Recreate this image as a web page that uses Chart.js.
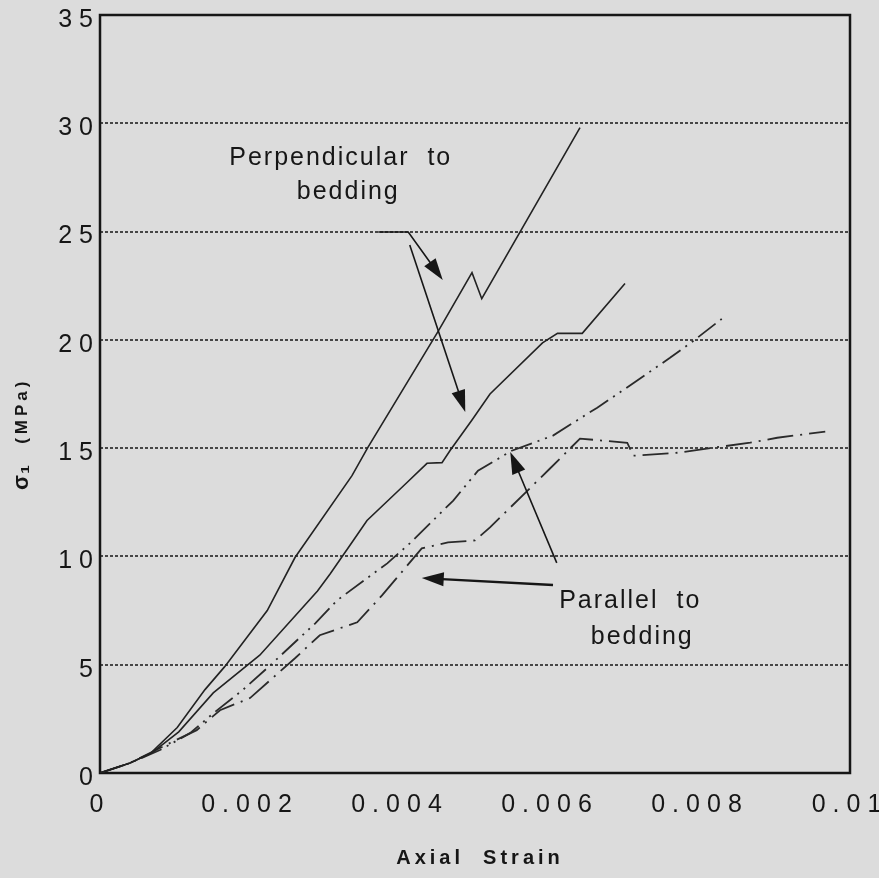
<!DOCTYPE html>
<html lang="en">
<head>
<meta charset="utf-8">
<title>Axial stress vs axial strain</title>
<script src="https://cdn.jsdelivr.net/npm/chart.js@4.4.1/dist/chart.umd.min.js"></script>
<style>
    html, body { margin: 0; padding: 0; background: #dcdcdc; }
    canvas { display: block; }
</style>
</head>
<body>
<canvas id="strainChart" width="879" height="878"></canvas>
<script>
// Readings along each curve: axial strain and axial stress (MPa)
const perpAStrain = [0, 0.0004, 0.00067, 0.00103, 0.0014, 0.00166, 0.00223, 0.0026, 0.00336, 0.00357, 0.00451, 0.00496, 0.00509, 0.0064];
const perpAStress = [0, 0.46, 0.9, 2.1, 3.85, 4.9, 7.5, 9.95, 13.73, 15.02, 20.4, 23.1, 21.9, 29.8];

const perpBStrain = [0, 0.0004, 0.0007, 0.00105, 0.00151, 0.00213, 0.0029, 0.00307, 0.00337, 0.00356, 0.00409, 0.00436, 0.00456, 0.00467, 0.00496, 0.0052, 0.0059, 0.0061, 0.00643, 0.007];
const perpBStress = [0, 0.46, 0.95, 1.9, 3.7, 5.44, 8.4, 9.2, 10.7, 11.66, 13.4, 14.3, 14.33, 14.9, 16.3, 17.5, 19.86, 20.3, 20.3, 22.6];

const paraAStrain = [0, 0.0004, 0.0008, 0.0012, 0.00153, 0.0019, 0.00224, 0.00287, 0.00316, 0.00383, 0.00413, 0.00471, 0.00504, 0.00549, 0.00604, 0.00663, 0.007, 0.0076, 0.00791, 0.00829];
const paraAStress = [0, 0.46, 1.06, 1.84, 2.81, 3.82, 4.88, 6.91, 7.97, 9.68, 10.6, 12.58, 13.96, 14.88, 15.58, 16.87, 17.74, 19.17, 19.95, 20.97];

const paraBStrain = [0, 0.0004, 0.00093, 0.00129, 0.0016, 0.002, 0.0026, 0.00293, 0.00343, 0.00376, 0.00429, 0.00464, 0.005, 0.0052, 0.006, 0.0064, 0.00703, 0.00711, 0.00771, 0.00809, 0.00867, 0.00903, 0.00967];
const paraBStress = [0, 0.46, 1.38, 1.98, 2.9, 3.46, 5.3, 6.36, 6.96, 8.2, 10.37, 10.65, 10.74, 11.34, 14.06, 15.44, 15.25, 14.65, 14.79, 14.98, 15.25, 15.48, 15.76];

const xTickLabels = ['0', '0.002', '0.004', '0.006', '0.008', '0.01'];
const yTickLabels = ['0', '5', '10', '15', '20', '25', '30', '35'];

const FONT = "'Liberation Sans', Arial, Helvetica, sans-serif";
const INK = '#161616';

// Callout text and arrows, given in strain / MPa so they follow the axes
const notes = [
    {text: 'Perpendicular  to', x: 0.00321, y: 28.4},
    {text: 'bedding', x: 0.00331, y: 26.8},
    {text: 'Parallel  to', x: 0.00707, y: 7.94},
    {text: 'bedding', x: 0.00723, y: 6.28}
];
const arrows = [
    {path: [[0.00371, 24.98], [0.00411, 24.98], [0.00457, 22.76]], width: 1.6},
    {path: [[0.00413, 24.38], [0.00487, 16.67]], width: 1.6},
    {path: [[0.00604, 8.68], [0.00429, 9.0]], width: 2.4},
    {path: [[0.00609, 9.7], [0.00547, 14.82]], width: 1.6}
];

function toPoints(strain, stress) {
    return strain.map((s, i) => ({x: s, y: stress[i]}));
}

function drawArrow(ctx, pts, width) {
    const n = pts.length;
    const [tx, ty] = pts[n - 1];
    const [px, py] = pts[n - 2];
    const ang = Math.atan2(ty - py, tx - px);
    const len = 22, half = 7;
    const cos = Math.cos(ang), sin = Math.sin(ang);

    ctx.lineWidth = width;
    ctx.beginPath();
    ctx.moveTo(pts[0][0], pts[0][1]);
    for (let i = 1; i < n - 1; i++) ctx.lineTo(pts[i][0], pts[i][1]);
    ctx.lineTo(tx - len * 0.7 * cos, ty - len * 0.7 * sin);
    ctx.stroke();

    ctx.beginPath();
    ctx.moveTo(tx, ty);
    ctx.lineTo(tx - len * cos + half * sin, ty - len * sin - half * cos);
    ctx.lineTo(tx - len * cos - half * sin, ty - len * sin + half * cos);
    ctx.closePath();
    ctx.fill();
}

// spaced-out lettering used by the tick labels
const spacingPlugin = {
    id: 'spacing',
    beforeLayout(chart) { chart.ctx.letterSpacing = '7px'; },
    beforeDraw(chart) { chart.ctx.letterSpacing = '7px'; }
};

// box round the plot area
const framePlugin = {
    id: 'frame',
    beforeDatasetsDraw(chart) {
        const {ctx, chartArea: a} = chart;
        ctx.save();
        ctx.strokeStyle = INK;
        ctx.lineWidth = 2.5;
        ctx.strokeRect(a.left, a.top, a.right - a.left, a.bottom - a.top);
        ctx.restore();
    }
};

const annotatePlugin = {
    id: 'annotate',
    afterDatasetsDraw(chart) {
        const {ctx, chartArea: a, scales: {x, y}} = chart;
        ctx.save();
        ctx.fillStyle = INK;
        ctx.strokeStyle = INK;

        ctx.font = '25px ' + FONT;
        ctx.letterSpacing = '2px';
        ctx.textAlign = 'center';
        ctx.textBaseline = 'middle';
        notes.forEach(n => ctx.fillText(n.text, x.getPixelForValue(n.x), y.getPixelForValue(n.y)));

        arrows.forEach(ar => {
            const pts = ar.path.map(p => [x.getPixelForValue(p[0]), y.getPixelForValue(p[1])]);
            drawArrow(ctx, pts, ar.width);
        });

        // axis titles
        ctx.font = 'bold 20px ' + FONT;
        ctx.letterSpacing = '4px';
        ctx.fillText('Axial  Strain', (a.left + a.right) / 2 + 5, a.bottom + 85);

        ctx.translate(22, a.bottom - 283);
        ctx.rotate(-Math.PI / 2);
        ctx.textAlign = 'left';
        ctx.letterSpacing = '1px';
        ctx.font = 'bold 22px ' + FONT;
        ctx.fillText('σ₁', 0, 0);
        const sigmaW = ctx.measureText('σ₁').width;
        ctx.font = 'bold 17px ' + FONT;
        ctx.letterSpacing = '4px';
        ctx.fillText('(MPa)', sigmaW + 20, 0);
        ctx.restore();
    }
};

function drawStrainChart() {
    const canvas = document.getElementById('strainChart');
    if (!canvas) {
        console.error("Canvas element 'strainChart' not found.");
        return;
    }
    const ctx = canvas.getContext('2d');

    const data = {
        datasets: [
            {label: 'Perpendicular 1', data: toPoints(perpAStrain, perpAStress), borderColor: '#222222', borderWidth: 1.6},
            {label: 'Perpendicular 2', data: toPoints(perpBStrain, perpBStress), borderColor: '#222222', borderWidth: 1.6},
            {label: 'Parallel 1', data: toPoints(paraAStrain, paraAStress), borderColor: '#2a2a2a', borderWidth: 1.8, borderDash: [22, 6, 2, 6, 2, 6]},
            {label: 'Parallel 2', data: toPoints(paraBStrain, paraBStress), borderColor: '#2a2a2a', borderWidth: 1.8, borderDash: [26, 7, 2, 7]}
        ]
    };

    const tickFont = {family: FONT, size: 25};

    const config = {
        type: 'line',
        data: data,
        options: {
            responsive: false,
            animation: false,
            devicePixelRatio: 1,
            layout: {padding: {top: 15, right: 29, left: 0, bottom: 0}},
            elements: {point: {radius: 0}, line: {tension: 0}},
            plugins: {legend: {display: false}, tooltip: {enabled: false}},
            scales: {
                x: {
                    type: 'linear',
                    min: 0,
                    max: 0.01,
                    border: {display: false},
                    grid: {display: false, drawTicks: false},
                    ticks: {
                        stepSize: 0.002,
                        padding: 17,
                        color: INK,
                        font: tickFont,
                        maxRotation: 0,
                        callback: (v, i) => xTickLabels[i]
                    },
                    afterFit(scale) {
                        scale.height = 105;
                        scale.paddingLeft = 0;
                        scale.paddingRight = 0;
                    }
                },
                y: {
                    min: 0,
                    max: 35,
                    border: {display: false, dash: [3, 2]},
                    grid: {
                        drawTicks: false,
                        lineWidth: 2,
                        color: c => (c.tick && (c.tick.value === 0 || c.tick.value === 35)) ? 'rgba(0,0,0,0)' : '#464646'
                    },
                    ticks: {
                        stepSize: 5,
                        padding: 0,
                        labelOffset: 5,
                        color: INK,
                        font: tickFont,
                        callback: (v, i) => yTickLabels[i]
                    },
                    afterFit(scale) {
                        scale.width = 100;
                        scale.paddingTop = 0;
                        scale.paddingBottom = 0;
                    }
                }
            }
        },
        plugins: [spacingPlugin, framePlugin, annotatePlugin]
    };

    new Chart(ctx, config);
}

drawStrainChart();
</script>
</body>
</html>
